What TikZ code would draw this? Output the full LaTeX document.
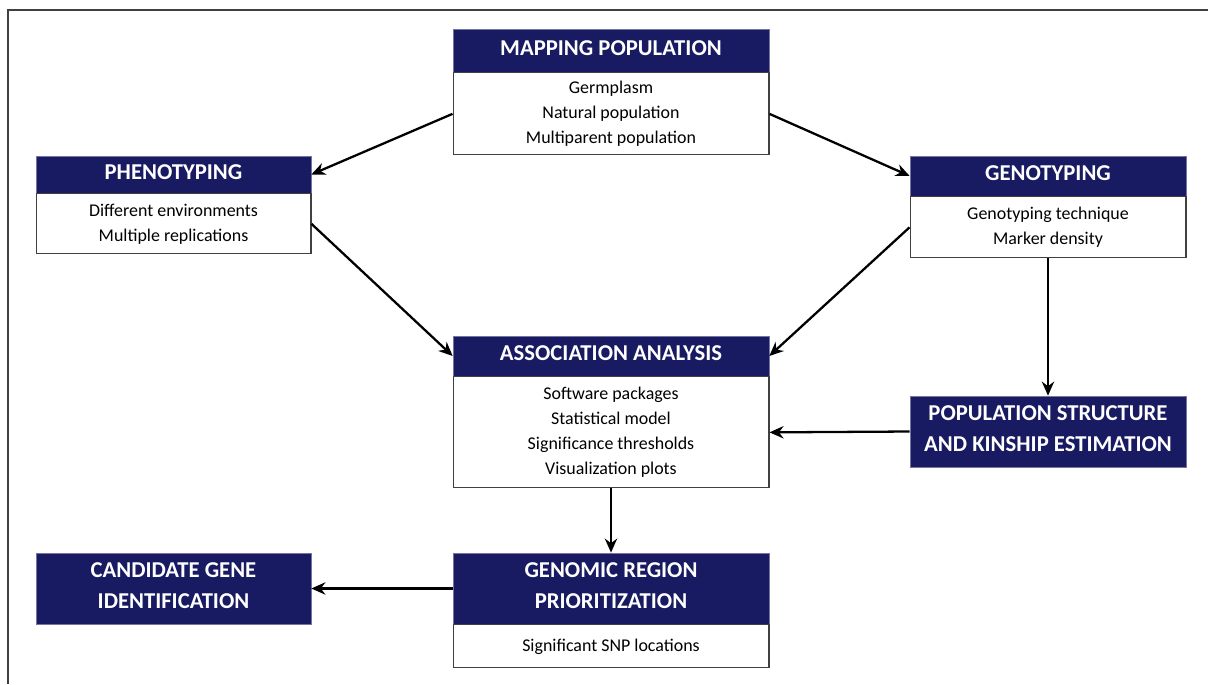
\documentclass[tikz,border=0pt]{standalone}
\usepackage{fontspec}
\setmainfont{Carlito}
\usetikzlibrary{positioning,arrows.meta}
\definecolor{navy}{RGB}{24,26,98}
\tikzset{
  head/.style={fill=navy,draw=navy!60,line width=0.4pt,text=white,align=center,
    font=\fontsize{12.9}{17.6}\selectfont\bfseries,inner sep=0pt,text depth=0.1cm},
  body/.style={fill=white,draw=black!75,line width=0.6pt,align=center,
    font=\fontsize{10.2}{14.2}\selectfont,inner sep=0pt},
  link/.style={line width=1.3pt,-{Stealth[length=8pt,width=7pt]}}
}
\begin{document}
\begin{tikzpicture}[x=0.02cm,y=-0.02cm]
  \useasboundingbox (0,0) rectangle (1208,684);
  \draw[black!75,line width=1.1pt] (8,684) -- (8,10) -- (1208,10);
  % boxes
  \node[head,minimum width=6.32cm,minimum height=0.86cm] (map) at (611,50.5) {MAPPING POPULATION};
  \node[body,minimum width=6.32cm,minimum height=1.64cm,below=0pt of map] (mapb)
    {Germplasm\\Natural population\\Multiparent population};
  \node[head,minimum width=5.5cm,minimum height=0.74cm] (phen) at (173.5,174.5) {PHENOTYPING};
  \node[body,minimum width=5.5cm,minimum height=1.2cm,below=0pt of phen] (phenb)
    {Different environments\\Multiple replications};
  \node[head,minimum width=5.52cm,minimum height=0.8cm] (gen) at (1048,176) {GENOTYPING};
  \node[body,minimum width=5.52cm,minimum height=1.22cm,below=0pt of gen] (genb)
    {Genotyping technique\\Marker density};
  \node[head,minimum width=6.32cm,minimum height=0.8cm] (assoc) at (611,356) {ASSOCIATION ANALYSIS};
  \node[body,minimum width=6.32cm,minimum height=2.22cm,below=0pt of assoc] (assocb)
    {Software packages\\Statistical model\\Significance thresholds\\Visualization plots};
  \node[head,minimum width=5.52cm,minimum height=1.42cm] (pop) at (1048,431.5)
    {POPULATION STRUCTURE\\AND KINSHIP ESTIMATION};
  \node[head,minimum width=6.32cm,minimum height=1.42cm] (reg) at (611,588.5)
    {GENOMIC REGION\\PRIORITIZATION};
  \node[body,minimum width=6.32cm,minimum height=0.86cm,below=0pt of reg] (regb)
    {Significant SNP locations};
  \node[head,minimum width=5.5cm,minimum height=1.42cm] (cand) at (173.5,588.5)
    {CANDIDATE GENE\\IDENTIFICATION};
  % arrows
  \draw[link] (mapb.west) -- (phen.east);
  \draw[link] (mapb.east) -- (gen.west);
  \draw[link] (phenb.east) -- (assoc.west);
  \draw[link] (genb.west) -- (assoc.east);
  \draw[link] (genb.south) -- (pop.north);
  \draw[link] (pop.west) -- (assocb.east);
  \draw[link] (assocb.south) -- (reg.north);
  \draw[link] (reg.west) -- (cand.east);
\end{tikzpicture}
\end{document}
